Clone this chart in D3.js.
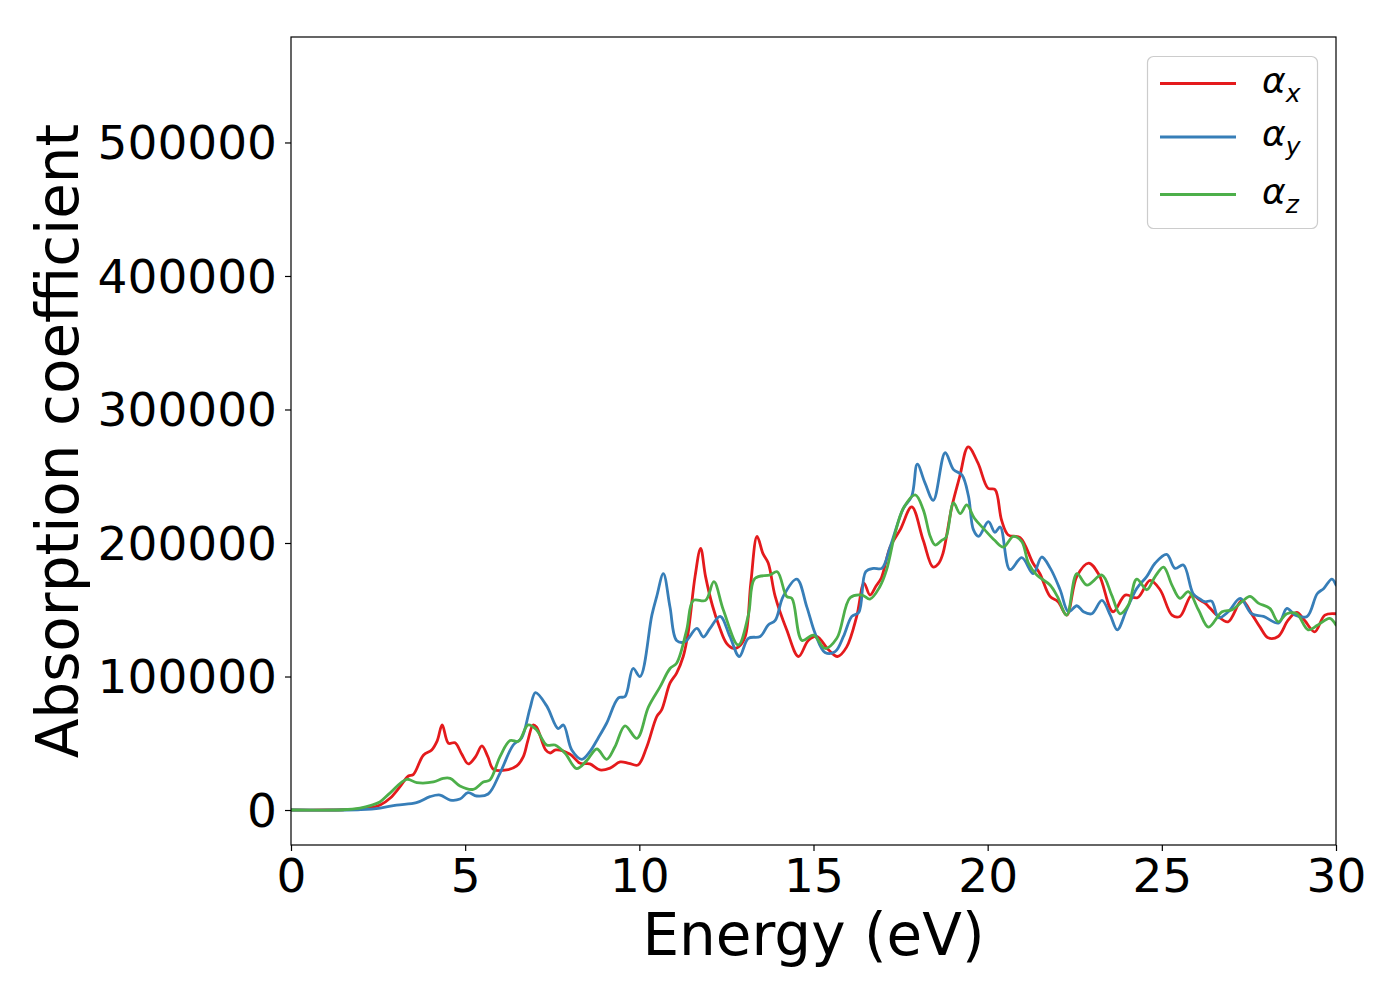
<!DOCTYPE html>
<html>
<head>
<meta charset="utf-8">
<script src="https://cdn.jsdelivr.net/npm/d3@7"></script>
<style>
  html, body { margin: 0; padding: 0; background: #fff; }
  text { font-family: "DejaVu Sans", sans-serif; }
</style>
</head>
<body>
<svg id="chart" width="1400" height="1000"></svg>
<script>
// ---- data (energy in eV, absorption in thousands) ----
const energyX = [0,1,1.5,2.0,2.3,2.56,2.85,3.13,3.37,3.51,3.8,4.04,4.2,4.34,4.52,4.71,4.9,5.09,5.3,5.48,5.65,5.81,6.19,6.48,6.67,6.8,6.95,7.05,7.31,7.44,7.6,8.0,8.3,8.58,8.87,9.16,9.45,9.7,9.96,10.21,10.5,10.64,10.88,11.07,11.26,11.4,11.6,11.76,11.9,12.1,12.3,12.5,12.7,12.84,13.04,13.2,13.38,13.55,13.7,13.9,14.23,14.57,14.85,15.09,15.43,15.69,15.95,16.24,16.45,16.62,16.8,16.95,17.2,17.49,17.82,18.15,18.43,18.6,18.72,18.97,19.2,19.44,19.72,20.01,20.21,20.4,20.59,20.93,21.3,21.5,21.79,22.02,22.27,22.56,22.9,23.2,23.6,23.95,24.3,24.66,24.95,25.29,25.52,25.86,26.1,26.24,26.58,26.9,27.3,27.6,27.82,28.05,28.34,28.62,28.87,29.1,29.39,29.68,30];
const alphaX = [0,0,0.2,0.8,1.8,3.7,9,17.5,25.5,26.5,41,45,52,63.7,50,50.4,42,34.5,40,48,40,30.5,30,33,40,52,63.7,62,45,42.7,45,42,35,34.5,30,31.4,36,35,33.7,47,70,75,95,102.6,115,132.6,175,196,175,153,137,125,121,122,130,170,205,192,185,160,135,115,127,130,120,115,122,145,170,161,168,174,197,210,227,202,182,185,192.5,227,250,272,260,241,240,217,206,204,185,177,160,156,146,175,185,176,148.5,161,159,172,165,146,145,161,157,155,146,141,157,146,137,129,130,142,148,142,133.5,146,147];

const energyY = [0,1.5,2.0,2.56,3.03,3.6,3.99,4.28,4.57,4.85,5.08,5.33,5.66,6.0,6.38,6.62,6.86,7.02,7.34,7.67,7.82,8.06,8.35,8.58,8.82,9.06,9.4,9.59,9.82,10.02,10.36,10.5,10.69,10.88,11.07,11.31,11.65,11.84,12.03,12.32,12.6,12.87,13.13,13.47,13.7,13.9,14.13,14.52,14.81,15.05,15.33,15.62,15.86,16.1,16.3,16.5,16.72,16.96,17.2,17.58,17.82,17.98,18.2,18.44,18.78,19.02,19.26,19.45,19.59,19.74,20.02,20.21,20.36,20.64,20.98,21.31,21.55,21.8,22.08,22.32,22.56,22.75,22.99,23.28,23.52,23.72,23.99,24.28,24.57,24.81,25.14,25.38,25.62,25.9,26.1,26.24,26.43,26.63,26.91,27.25,27.58,27.92,28.35,28.59,28.83,29.17,29.46,29.65,29.88,30];
const alphaY = [0,0,0.3,1.5,3.7,5.5,10,11.2,7.5,8.2,13,10.5,12,27.7,48.7,54,76,88,78,61,63.7,45,38,43.7,54,65,84,85,106,100,146,160,177,152,127,126,136,129.6,136,145,130,115,128.6,130,138.6,142,160,173,152,132,118,118.6,130,145,148,178.5,181,181,197,226,235,259,245,232,267.6,255,251,235,210,205,216,208,212,180,189,177,189.5,181,165,148.5,153,148.5,147,157,146,135,150,166,175,185,191.5,181,183.5,162,158,156,156.5,144,148.5,158.5,147,145,140,151,146,145,162,166,173,168.5];

const energyZ = [0,1.5,1.98,2.3,2.55,2.84,3.32,3.61,4.09,4.37,4.57,4.85,5.23,5.52,5.71,6.0,6.29,6.53,6.81,7.05,7.34,7.58,7.87,8.2,8.49,8.78,9.06,9.3,9.59,9.93,10.26,10.59,10.88,11.07,11.36,11.55,11.9,12.14,12.41,12.84,13.13,13.32,13.75,13.96,14.23,14.38,14.67,15.0,15.33,15.67,16.05,16.39,16.62,16.9,17.1,17.34,17.58,17.92,18.15,18.35,18.49,18.68,18.8,19.02,19.21,19.4,19.62,19.91,20.2,20.45,20.74,20.98,21.17,21.41,21.79,22.0,22.27,22.56,22.85,23.28,23.56,23.8,24.04,24.28,24.57,24.81,25.05,25.29,25.52,25.76,26.05,26.34,26.73,27.02,27.3,27.53,27.77,28.1,28.34,28.59,28.87,29.2,29.48,29.82,30];
const alphaZ = [0,0.2,1.5,3.5,6,12.7,23,20.5,21,23.7,23.7,18,15.5,21,22.5,40,52,51.5,63.7,60,48.7,48.7,42.5,31,37,45.7,38,47.4,63,53.7,77,92,106,110,135,157,157,171,150,123.6,146,173.5,176,178.5,160,158.5,127,131,121,128.6,159,161,158,167,180,207,226,236,225,205,198.5,202,204,230,222,228.5,218.5,210,202,197,205,201,185,176,168.5,160,146,177,168.5,176,161,147,153.5,173,165,175,182,168.5,158.5,163.5,150,137,148.5,150,156,160,155,151,141,147,147,135,138.6,143.6,138.6];

const xTicks = [0,5,10,15,20,25,30];
const yTicks = [0,100000,200000,300000,400000,500000];
const seriesNames = ["x","y","z"];
const seriesColors = ["#e41a1c","#377eb8","#4daf4a"];

// ---- layout ----
const L = 291, R = 1336, T = 37, B = 845;
const svg = d3.select("#chart");
const x = d3.scaleLinear().domain([0,30]).range([L,R]);
const y = d3.scaleLinear().domain([-26200,579000]).range([B,T]);

const series = [
  {name: seriesNames[0], color: seriesColors[0], pts: energyX.map((e,i)=>[e, alphaX[i]*1000])},
  {name: seriesNames[1], color: seriesColors[1], pts: energyY.map((e,i)=>[e, alphaY[i]*1000])},
  {name: seriesNames[2], color: seriesColors[2], pts: energyZ.map((e,i)=>[e, alphaZ[i]*1000])}
];

svg.append("clipPath").attr("id","clip").append("rect")
  .attr("x",L).attr("y",T).attr("width",R-L).attr("height",B-T);

const line = d3.line().x(d=>x(d[0])).y(d=>y(d[1])).curve(d3.curveCatmullRom.alpha(0.5));
const g = svg.append("g").attr("clip-path","url(#clip)");
series.forEach(s => {
  g.append("path").datum(s.pts).attr("d",line)
    .attr("fill","none").attr("stroke",s.color).attr("stroke-width",2.8)
    .attr("stroke-linejoin","round").attr("stroke-linecap","round");
});

// axes
const xAxis = d3.axisBottom(x).tickValues(xTicks).tickSize(6).tickPadding(8).tickFormat(d3.format("d"));
const yAxis = d3.axisLeft(y).tickValues(yTicks).tickSize(6).tickPadding(8).tickFormat(d3.format("d"));
const gx = svg.append("g").attr("transform",`translate(0,${B})`).call(xAxis);
const gy = svg.append("g").attr("transform",`translate(${L},0)`).call(yAxis);
[gx,gy].forEach(a => {
  a.select(".domain").remove();
  a.selectAll("line").attr("stroke","#000").attr("stroke-width",1.2);
  a.selectAll("text").attr("fill","#000").style("font-size","47px").style("font-family","'DejaVu Sans', sans-serif");
});
gy.selectAll("text").attr("dy","0.35em");

// frame
svg.append("rect").attr("x",L).attr("y",T).attr("width",R-L).attr("height",B-T)
  .attr("fill","none").attr("stroke","#000").attr("stroke-width",1.2);

// axis labels
svg.append("text").attr("x",(L+R)/2).attr("y",955).attr("text-anchor","middle")
  .style("font-size","58px").text("Energy (eV)");
svg.append("text").attr("transform",`translate(78,${(T+B)/2}) rotate(-90)`).attr("text-anchor","middle")
  .style("font-size","58px").text("Absorption coefficient");

// legend
const lg = svg.append("g");
lg.append("rect").attr("x",1147.5).attr("y",56.5).attr("width",170).attr("height",172).attr("rx",6)
  .attr("fill","#fff").attr("fill-opacity",0.8).attr("stroke","#cccccc").attr("stroke-width",1.2);
const rowY = [83.5,137,194.5];
series.forEach((s,i) => {
  lg.append("line").attr("x1",1160).attr("x2",1236).attr("y1",rowY[i]).attr("y2",rowY[i])
    .attr("stroke",s.color).attr("stroke-width",2.8);
  const t = lg.append("text").attr("x",1262).attr("y",rowY[i]+9).style("font-size","36px");
  t.append("tspan").style("font-style","italic").text("α");
  t.append("tspan").style("font-style","italic").style("font-size","25px").attr("dy",9).text(s.name);
});
</script>
</body>
</html>
